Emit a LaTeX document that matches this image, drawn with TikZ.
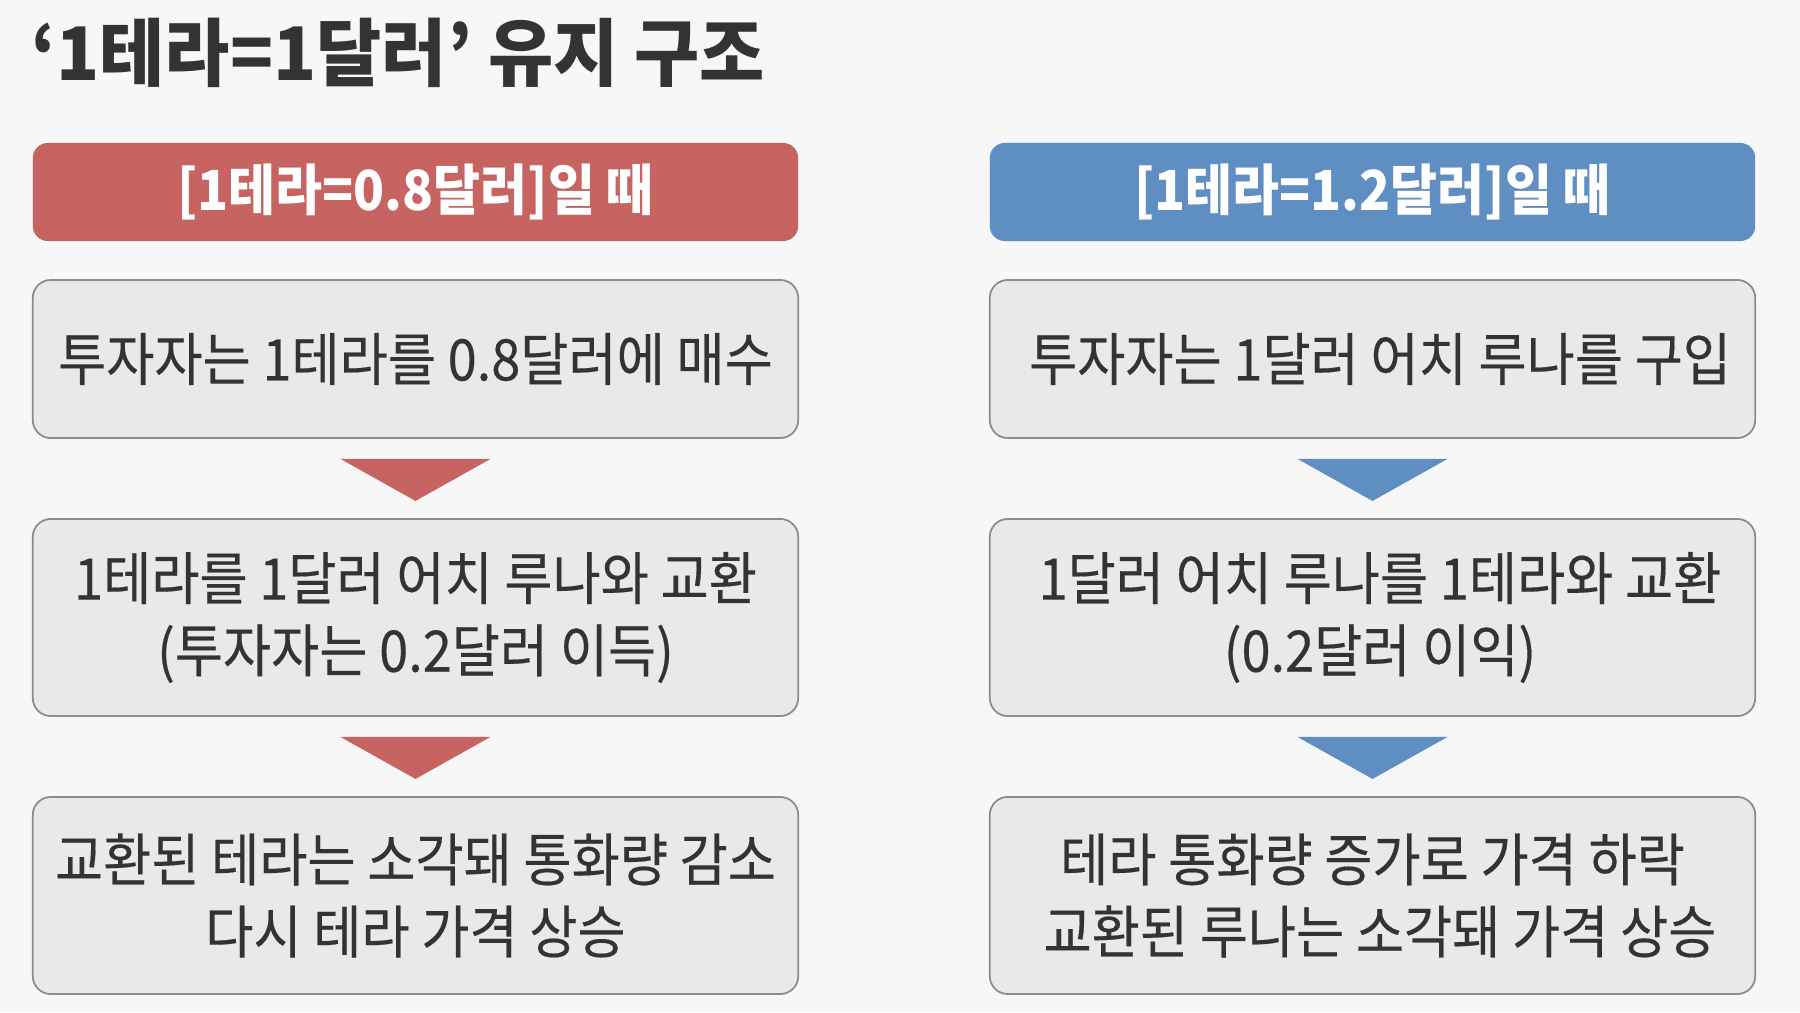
\documentclass[tikz,border=0pt]{standalone}
\usepackage{fontspec}
\setmainfont{Noto Sans CJK KR}[FakeStretch=0.913, FakeBold=0.3]
\newfontfamily\headfont{Noto Sans CJK KR}[FakeStretch=0.925]
\newfontfamily\titlefont{Noto Sans CJK KR}[FakeStretch=0.96]
\usetikzlibrary{calc}
\definecolor{bg}{HTML}{F7F7F7}
\definecolor{redc}{HTML}{C76462}
\definecolor{bluec}{HTML}{5F8FC2}
\definecolor{boxfill}{HTML}{E9E9E9}
\definecolor{boxline}{HTML}{8C8C8C}
\definecolor{txt}{HTML}{333333}
\tikzset{
  header/.style={rounded corners=0.15cm, minimum width=7.65cm, minimum height=0.98cm,
    inner sep=0pt, text=white, font=\headfont\fontsize{15.7pt}{19pt}\selectfont\bfseries},
  stepbox/.style={draw=boxline, line width=0.5pt, fill=boxfill, rounded corners=0.18cm,
    minimum width=7.65cm, inner sep=0pt, text=txt, align=center,
    font=\fontsize{16.3pt}{20.5pt}\selectfont},
}
\begin{document}
\begin{tikzpicture}[x=0.01cm,y=-0.01cm]
\fill[bg] (0,0) rectangle (1800,1012);
\useasboundingbox (0,0) rectangle (1800,1012);
\node[anchor=west, inner sep=0pt, text=txt, font=\titlefont\fontsize{21pt}{25pt}\selectfont\bfseries] (title) at (31,53) {‘1테라=1달러’ 유지 구조};
% headers
\node[header, fill=redc] (hL) at (415.5,192) {[1테라=0.8달러]일 때};
\node[header, fill=bluec] (hR) at (1372.5,192) {[1테라=1.2달러]일 때};
% left column
\node[stepbox, minimum height=1.58cm] (b1L) at (415.5,359) {투자자는 1테라를 0.8달러에 매수};
\node[stepbox, minimum height=1.97cm] (b2L) at (415.5,617.5) {1테라를 1달러 어치 루나와 교환\\(투자자는 0.2달러 이득)};
\node[stepbox, minimum height=1.97cm] (b3L) at (415.5,895.5) {교환된 테라는 소각돼 통화량 감소\\다시 테라 가격 상승};
% right column
\node[stepbox, minimum height=1.58cm] (b1R) at (1372.5,359) {\hspace{0.15cm}투자자는 1달러 어치 루나를 구입};
\node[stepbox, minimum height=1.97cm] (b2R) at (1372.5,617.5) {\hspace{0.15cm}1달러 어치 루나를 1테라와 교환\\\hspace{0.15cm}(0.2달러 이익)};
\node[stepbox, minimum height=1.97cm] (b3R) at (1372.5,895.5) {테라 통화량 증가로 가격 하락\\\hspace{0.15cm}교환된 루나는 소각돼 가격 상승};
% triangles
\foreach \b/\c in {b1L/redc, b2L/redc, b1R/bluec, b2R/bluec}{
  \fill[\c] ($(\b.south)+(-75,20)$) -- ($(\b.south)+(75,20)$) -- ($(\b.south)+(0,62)$) -- cycle;
}
\end{tikzpicture}
\end{document}
